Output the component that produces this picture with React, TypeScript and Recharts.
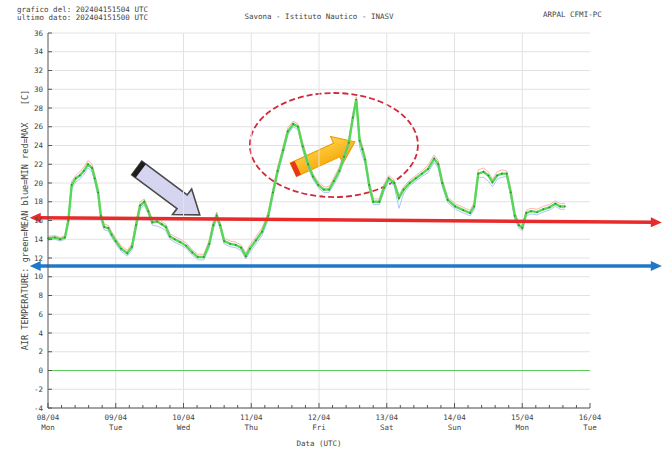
import React from "react";
import {
  LineChart,
  Line,
  XAxis,
  YAxis,
  CartesianGrid,
  ReferenceLine,
  ReferenceArea,
} from "recharts";

if (typeof document !== "undefined") document.body.style.margin = "0";

// time in days since 08/04 00 UTC
const days = [
  0.0, 0.1, 0.18, 0.25, 0.3, 0.35, 0.41, 0.47, 0.53, 0.59,
  0.65, 0.69, 0.74, 0.78, 0.83, 0.89, 0.94, 1.0, 1.08, 1.17,
  1.24, 1.3, 1.36, 1.42, 1.48, 1.54, 1.61, 1.68, 1.74, 1.8,
  1.87, 1.95, 2.04, 2.13, 2.21, 2.3, 2.38, 2.44, 2.49, 2.54,
  2.6, 2.69, 2.77, 2.85, 2.92, 2.98, 3.07, 3.16, 3.25, 3.32,
  3.39, 3.47, 3.54, 3.62, 3.69, 3.76, 3.84, 3.91, 3.99, 4.07,
  4.15, 4.22, 4.3, 4.37, 4.44, 4.5, 4.55, 4.6, 4.64, 4.68,
  4.74, 4.8, 4.89, 4.96, 5.03, 5.11, 5.18, 5.25, 5.34, 5.43,
  5.52, 5.61, 5.7, 5.76, 5.82, 5.9, 6.01, 6.13, 6.23, 6.29,
  6.35, 6.43, 6.5, 6.56, 6.63, 6.7, 6.77, 6.83, 6.89, 6.95,
  7.0, 7.06, 7.13, 7.22, 7.31, 7.4, 7.49, 7.56, 7.63,
];

const meanTemp = [
  14.1, 14.2, 14.0, 14.2, 16.0, 19.8, 20.5, 20.8, 21.3, 22.0,
  21.6, 20.5, 19.0, 16.5, 15.3, 15.2, 14.5, 13.8, 13.0, 12.5,
  13.2, 15.5, 17.6, 18.0, 17.0, 15.8, 15.9, 15.6, 15.3, 14.3,
  14.0, 13.7, 13.3, 12.6, 12.1, 12.1, 13.5, 15.5, 16.5, 15.5,
  13.8, 13.5, 13.4, 13.1, 12.2, 13.0, 13.9, 14.8, 16.5, 19.0,
  21.3, 23.5, 25.5, 26.3, 26.0, 23.9, 22.0, 20.7, 19.8, 19.3,
  19.3, 20.2, 21.3, 22.8, 24.3, 27.0, 28.9, 24.5, 23.6, 22.5,
  19.8, 18.0, 18.0, 19.5, 20.5, 20.0, 18.4, 19.3, 20.0, 20.5,
  21.0, 21.5, 22.6, 22.0, 20.0, 18.2, 17.5, 17.1, 16.8, 17.5,
  21.0, 21.2, 20.8, 20.1, 20.8, 21.0, 21.0, 19.0, 16.5, 15.5,
  15.2, 16.8, 17.0, 16.9, 17.2, 17.4, 17.8, 17.5, 17.5,
];

const maxTemp = [
  14.3, 14.4, 14.2, 14.4, 16.4, 20.2, 20.8, 21.2, 21.7, 22.4,
  22.0, 20.9, 19.4, 16.9, 15.6, 15.5, 14.8, 14.1, 13.3, 12.8,
  13.6, 15.9, 18.0, 18.3, 17.3, 16.1, 16.2, 15.9, 15.6, 14.6,
  14.3, 14.0, 13.6, 12.9, 12.4, 12.4, 13.9, 15.9, 16.9, 15.8,
  14.1, 13.8, 13.7, 13.4, 12.5, 13.4, 14.3, 15.2, 16.9, 19.4,
  21.7, 23.9, 25.9, 26.6, 26.3, 24.3, 22.4, 21.0, 20.1, 19.6,
  19.6, 20.6, 21.7, 23.2, 24.7, 27.4, 29.2, 25.0, 24.0, 22.9,
  20.2, 18.3, 18.3, 19.9, 20.8, 20.3, 18.7, 19.6, 20.3, 20.8,
  21.3, 21.9, 23.0, 22.4, 20.4, 18.5, 17.8, 17.4, 17.1, 17.9,
  21.4, 21.6, 21.2, 20.4, 21.2, 21.4, 21.3, 19.4, 16.9, 15.8,
  15.5, 17.1, 17.3, 17.2, 17.5, 17.7, 18.1, 17.8, 17.8,
];

const minTemp = [
  13.9, 14.0, 13.8, 14.0, 15.6, 19.4, 20.1, 20.4, 20.9, 21.6,
  21.2, 20.1, 18.6, 16.1, 15.0, 14.9, 14.2, 13.5, 12.7, 12.2,
  12.8, 15.1, 17.2, 17.7, 16.7, 15.5, 15.4, 15.2, 14.9, 14.0,
  13.7, 13.4, 13.0, 12.3, 11.8, 11.8, 13.1, 15.1, 16.1, 15.2,
  13.5, 13.2, 13.1, 12.8, 11.9, 12.6, 13.5, 14.4, 16.1, 18.6,
  20.9, 23.1, 25.1, 26.0, 25.7, 23.5, 21.6, 20.4, 19.5, 19.0,
  19.0, 19.8, 20.9, 22.4, 23.9, 26.6, 28.5, 23.8, 22.9, 22.1,
  19.4, 17.7, 17.7, 19.1, 20.2, 19.7, 17.3, 18.9, 19.7, 20.2,
  20.7, 21.1, 22.2, 21.6, 19.6, 17.9, 17.2, 16.8, 16.5, 17.1,
  20.6, 20.6, 20.2, 19.6, 20.4, 20.6, 20.7, 18.6, 16.1, 15.2,
  14.9, 16.5, 16.7, 16.6, 16.9, 17.1, 17.5, 17.2, 17.2,
];

const dateLabels = ["08/04", "09/04", "10/04", "11/04", "12/04", "13/04", "14/04", "15/04", "16/04"];
const weekdayLabels = ["Mon", "Tue", "Wed", "Thu", "Fri", "Sat", "Sun", "Mon", "Tue"];
const yTicks = [-4, -2, 0, 2, 4, 6, 8, 10, 12, 14, 16, 18, 20, 22, 24, 26, 28, 30, 32, 34, 36];

const data = days.map((d, i) => ({
  day: d,
  mean: meanTemp[i],
  max: maxTemp[i],
  min: minTemp[i],
}));

const xTicks = Array.from({ length: 41 }, (_, i) => i / 5);
const FONT = "'DejaVu Sans Mono', monospace";
const AXIS = "#555";

const isMajor = (v: number) => Math.abs(v - Math.round(v)) < 1e-6;

const BottomTick = (props: any) => {
  const { x, y, payload } = props;
  const v = payload.value;
  const major = isMajor(v);
  const i = Math.round(v);
  return (
    <g>
      <line x1={x} x2={x} y1={y} y2={y - (major ? 5 : 3)} stroke={AXIS} />
      {major && (
        <text x={x} y={y + 12} textAnchor="middle" fontSize={7.5} fill="#444" fontFamily={FONT}>
          <tspan x={x}>{dateLabels[i]}</tspan>
          <tspan x={x} dy={10}>{weekdayLabels[i]}</tspan>
        </text>
      )}
    </g>
  );
};

const TopTick = (props: any) => {
  const { x, y, payload } = props;
  const major = isMajor(payload.value);
  return <line x1={x} x2={x} y1={y} y2={y + (major ? 5 : 3)} stroke={AXIS} />;
};

const LeftTick = (props: any) => {
  const { x, y, payload } = props;
  return (
    <g>
      <line x1={x} x2={x + 4} y1={y} y2={y} stroke={AXIS} />
      <text x={x - 5} y={y + 2.5} textAnchor="end" fontSize={7.5} fill="#444" fontFamily={FONT}>
        {payload.value}
      </text>
    </g>
  );
};

const RightTick = (props: any) => {
  const { x, y } = props;
  return <line x1={x - 4} x2={x + 2} y1={y} y2={y} stroke={AXIS} />;
};

// double headed thick arrow for ReferenceLine
const makeArrowLine = (color: string) => (props: any) => {
  const { x1, y1, x2, y2 } = props;
  const a = Math.atan2(y2 - y1, x2 - x1);
  const hl = 11;
  const hw = 5;
  const head = (px: number, py: number, dir: number) => {
    const bx = px - Math.cos(a) * hl * dir;
    const by = py - Math.sin(a) * hl * dir;
    const nx = -Math.sin(a) * hw;
    const ny = Math.cos(a) * hw;
    return `${px},${py} ${bx + nx},${by + ny} ${bx - nx},${by - ny}`;
  };
  return (
    <g>
      <line
        x1={x1 + Math.cos(a) * 8}
        y1={y1 + Math.sin(a) * 8}
        x2={x2 - Math.cos(a) * 8}
        y2={y2 - Math.sin(a) * 8}
        stroke={color}
        strokeWidth={3.5}
      />
      <polygon points={head(x1, y1, -1)} fill={color} />
      <polygon points={head(x2, y2, 1)} fill={color} />
    </g>
  );
};

const blockArrowPoints = (L: number, shaft: number, headW: number, headL: number) =>
  [
    [0, -shaft / 2],
    [L - headL, -shaft / 2],
    [L - headL, -headW / 2],
    [L, 0],
    [L - headL, headW / 2],
    [L - headL, shaft / 2],
    [0, shaft / 2],
  ]
    .map((p) => p.join(","))
    .join(" ");

const GrayArrow = (props: any) => {
  const { x, y, width, height } = props;
  const L = Math.hypot(width, height);
  const ang = (Math.atan2(height, width) * 180) / Math.PI;
  return (
    <g transform={`translate(${x},${y}) rotate(${ang})`}>
      <polygon points={blockArrowPoints(L, 17, 32, 22)} fill="#d5d5f0" stroke="#4a4a4a" strokeWidth={1.6} />
      <rect x={0} y={-8.5} width={5} height={17} fill="#1e1e1e" />
    </g>
  );
};

const OrangeArrow = (props: any) => {
  const { x, y, width, height } = props;
  const L = Math.hypot(width, height);
  const ang = (Math.atan2(-height, width) * 180) / Math.PI;
  return (
    <g transform={`translate(${x},${y + height}) rotate(${ang})`}>
      <defs>
        <linearGradient id="orangeFill" x1="0" y1="0" x2="0" y2="1">
          <stop offset="0%" stopColor="#ffd34a" />
          <stop offset="100%" stopColor="#f5a300" />
        </linearGradient>
      </defs>
      <polygon points={blockArrowPoints(L, 15, 30, 20)} fill="url(#orangeFill)" stroke="#e89a00" strokeWidth={1} />
      <rect x={0} y={-7.5} width={5} height={15} fill="#e8361c" />
    </g>
  );
};

const DashedEllipse = (props: any) => {
  const { x, y, width, height } = props;
  return (
    <ellipse
      cx={x + width / 2}
      cy={y + height / 2}
      rx={width / 2}
      ry={height / 2}
      fill="none"
      stroke="#d02a3a"
      strokeWidth={1.8}
      strokeDasharray="6 3"
    />
  );
};

const textStyle: React.CSSProperties = {
  position: "absolute",
  fontFamily: FONT,
  fontSize: 7.5,
  lineHeight: "7px",
  color: "#444",
  whiteSpace: "nowrap",
};

const App = () => {
  return (
    <div style={{ position: "relative", width: 667, height: 454, background: "#fff" }}>
      <LineChart
        width={667}
        height={454}
        data={data}
        margin={{ top: 33, right: 77, bottom: 0, left: 0 }}
      >
        <CartesianGrid vertical={false} stroke="#e2e2e2" />
        {[1, 2, 3, 4, 5, 6, 7].map((d) => (
          <ReferenceLine key={`v-${d}`} x={d} stroke="#e2e2e2" />
        ))}
        <ReferenceLine y={0} stroke="#5ccc5c" strokeWidth={1.2} />
        <XAxis
          dataKey="day"
          type="number"
          domain={[0, 8]}
          ticks={xTicks}
          interval={0}
          height={46}
          tickSize={0}
          tickMargin={0}
          tickLine={false}
          axisLine={{ stroke: AXIS }}
          tick={<BottomTick />}
        />
        <XAxis
          xAxisId="top"
          orientation="top"
          dataKey="day"
          type="number"
          domain={[0, 8]}
          ticks={xTicks}
          interval={0}
          height={0}
          tickSize={0}
          tickMargin={0}
          tickLine={false}
          axisLine={{ stroke: AXIS }}
          tick={<TopTick />}
        />
        <YAxis
          type="number"
          domain={[-4, 36]}
          ticks={yTicks}
          interval={0}
          width={48}
          tickSize={0}
          tickMargin={0}
          tickLine={false}
          axisLine={{ stroke: AXIS }}
          tick={<LeftTick />}
        />
        <YAxis
          yAxisId="right"
          orientation="right"
          type="number"
          domain={[-4, 36]}
          ticks={yTicks}
          interval={0}
          width={0}
          tickSize={0}
          tickMargin={0}
          tickLine={false}
          axisLine={{ stroke: AXIS }}
          tick={<RightTick />}
        />
        <Line dataKey="max" stroke="#ffa0a0" strokeWidth={0.8} dot={false} isAnimationActive={false} />
        <Line dataKey="min" stroke="#9fb4ff" strokeWidth={0.8} dot={false} isAnimationActive={false} />
        <Line
          dataKey="mean"
          stroke="#55d855"
          strokeWidth={2.4}
          dot={{ r: 0.9, fill: "#2a8f2a", stroke: "none" }}
          isAnimationActive={false}
        />
        <ReferenceArea x1={2.98} x2={5.46} y1={18.5} y2={29.6} shape={<DashedEllipse />} />
        <ReferenceArea x1={1.31} x2={2.24} y1={16.6} y2={21.6} shape={<GrayArrow />} />
        <ReferenceArea x1={3.62} x2={4.53} y1={21.4} y2={24.4} shape={<OrangeArrow />} />
        <ReferenceLine
          ifOverflow="visible"
          segment={[
            { x: -0.27, y: 16.3 },
            { x: 9.06, y: 15.8 },
          ]}
          shape={makeArrowLine("#e82a2a")}
        />
        <ReferenceLine
          ifOverflow="visible"
          segment={[
            { x: -0.27, y: 11.15 },
            { x: 9.06, y: 11.15 },
          ]}
          shape={makeArrowLine("#1f78c8")}
        />
      </LineChart>

      <div style={{ ...textStyle, left: 17, top: 6 }}>grafico del: 202404151504 UTC</div>
      <div style={{ ...textStyle, left: 17, top: 14 }}>ultimo dato: 202404151500 UTC</div>
      <div style={{ ...textStyle, left: 169, width: 300, top: 13, textAlign: "center" }}>
        Savona - Istituto Nautico - INASV
      </div>
      <div style={{ ...textStyle, left: 543, top: 11 }}>ARPAL CFMI-PC</div>
      <div style={{ ...textStyle, left: 169, width: 300, top: 440, textAlign: "center" }}>Data (UTC)</div>
      <div
        style={{
          ...textStyle,
          fontSize: 8.6,
          lineHeight: "9px",
          left: -125,
          width: 300,
          top: 232,
          textAlign: "center",
          transform: "rotate(-90deg)",
        }}
      >
        AIR TEMPERATURE: green=MEAN blue=MIN red=MAX
      </div>
      <div
        style={{
          ...textStyle,
          fontSize: 8.6,
          lineHeight: "9px",
          left: 5,
          width: 40,
          top: 93,
          textAlign: "center",
          transform: "rotate(-90deg)",
        }}
      >
        [C]
      </div>
    </div>
  );
};

export default App;
